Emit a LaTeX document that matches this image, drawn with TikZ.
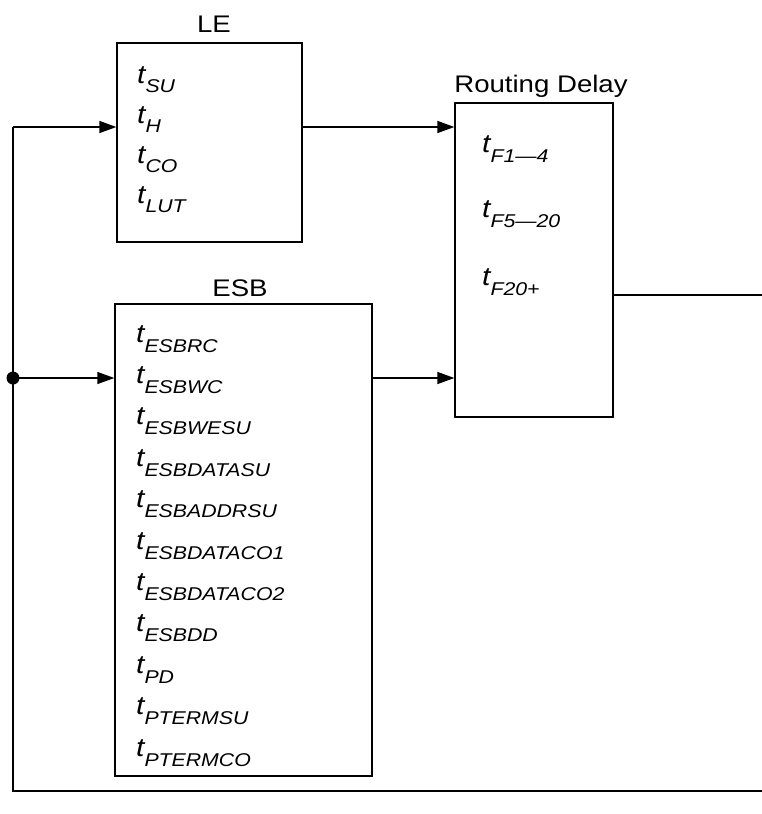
\documentclass[tikz,border=0pt]{standalone}
\usepackage{fontspec}
\usetikzlibrary{arrows.meta}
\newfontfamily\labfont[FakeStretch=1.15]{Liberation Sans}
\newcommand\Tv[2][9pt]{{\labfont\itshape\fontsize{26}{26}\selectfont t}\raisebox{-#1}{\labfont\itshape\fontsize{18.5}{18.5}\selectfont #2}}
\tikzset{
  box/.style={draw, line width=1.3pt, inner sep=0pt},
  lbl/.style={font=\labfont\fontsize{24}{24}\selectfont, anchor=base, inner sep=0pt},
  ent/.style={anchor=base west, inner sep=0pt},
  arr/.style={line width=1.3pt, -{Triangle[length=17pt,width=12pt]}},
  ln/.style={line width=1.3pt}
}
\begin{document}
\begin{tikzpicture}[x=1pt,y=-1pt]
\useasboundingbox (0,0) rectangle (762,814);
% boxes
\node[box, minimum width=185pt, minimum height=199pt] (le) at (209.5,142.5) {};
\node[box, minimum width=257pt, minimum height=472pt] (esb) at (243.5,540) {};
\node[box, minimum width=158pt, minimum height=314pt] (rd) at (534,260) {};
% titles
\node[lbl] (tle) at (214,32) {LE};
\node[lbl] (tesb) at (240,296) {ESB};
\node[lbl] (trd) at (541,92) {Routing Delay};
% LE entries
\node[ent] (l1) at (137,83) {\Tv{SU}};
\node[ent] (l2) at (137,123) {\Tv{H}};
\node[ent] (l3) at (137,163) {\Tv{CO}};
\node[ent] (l4) at (137,203) {\Tv{LUT}};
% ESB entries
\node[ent] (e1) at (136,342) {\Tv[10pt]{ESBRC}};
\node[ent] (e2) at (136,383.4) {\Tv[10pt]{ESBWC}};
\node[ent] (e3) at (136,424.8) {\Tv[10pt]{ESBWESU}};
\node[ent] (e4) at (136,466.2) {\Tv[10pt]{ESBDATASU}};
\node[ent] (e5) at (136,507.6) {\Tv[10pt]{ESBADDRSU}};
\node[ent] (e6) at (136,549) {\Tv[10pt]{ESBDATACO1}};
\node[ent] (e7) at (136,590.4) {\Tv[10pt]{ESBDATACO2}};
\node[ent] (e8) at (136,631.8) {\Tv[10pt]{ESBDD}};
\node[ent] (e9) at (136,673.2) {\Tv[10pt]{PD}};
\node[ent] (e10) at (136,714.6) {\Tv[10pt]{PTERMSU}};
\node[ent] (e11) at (136,756) {\Tv[10pt]{PTERMCO}};
% RD entries
\node[ent] (r1) at (482,152) {\Tv[10pt]{F1—4}};
\node[ent] (r2) at (482,217) {\Tv[10pt]{F5—20}};
\node[ent] (r3) at (482,285) {\Tv[10pt]{F20+}};
% connectors
\coordinate (a1) at (13,127);
\coordinate (j) at (13,378);
\coordinate (bl) at (13,791);
\coordinate (br) at (762,791);
\coordinate (o) at (762,295);
\draw[arr] (a1) -- (a1 -| le.west);
\draw[arr] (le.east |- a1) -- (rd.west |- a1);
\draw[arr] (j) -- (j -| esb.west);
\draw[arr] (esb.east |- j) -- (rd.west |- j);
\draw[ln] (rd.east |- o) -- (o);
\draw[ln] (br) -- (bl) -- (a1);
\fill (j) circle (6.5pt);
\end{tikzpicture}
\end{document}
